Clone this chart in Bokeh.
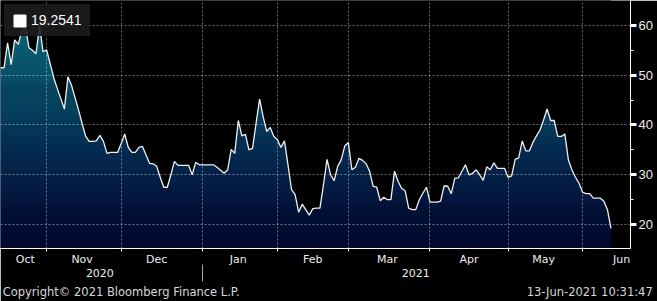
import numpy as np
import pandas as pd
from bokeh.plotting import figure
from bokeh.models import Range1d, LinearAxis, FixedTicker, Legend, LegendItem
from bokeh.embed import file_html
from bokeh.resources import INLINE

# ---- data (business days) ----
dates = pd.bdate_range("2020-10-14", "2021-06-11")
values = [
    51.5, 51.5, 56.5, 52.1, 57.1, 56.2, 59.0, 60.0, 55.5, 55.0,
    54.3, 60.0, 54.7, 55.1, 52.3, 49.5, 47.3, 45.3, 43.2, 49.7,
    48.0, 45.5, 43.0, 40.3, 37.7, 36.7, 36.7, 36.8, 37.9, 36.7,
    34.3, 34.5, 34.5, 34.5, 36.3, 38.2, 35.5, 34.5, 34.5, 35.5,
    35.7, 34.0, 32.3, 32.2, 31.7, 29.5, 27.5, 27.5, 30.0, 32.7,
    31.9, 31.9, 31.9, 31.9, 30.0, 32.5, 32.0, 32.0, 32.0, 32.0,
    32.0, 31.5, 30.9, 30.3, 31.0, 35.1, 34.3, 40.9, 37.8, 38.1,
    35.0, 35.3, 40.3, 45.2, 41.7, 38.7, 39.5, 37.7, 37.1, 35.5,
    36.8, 32.0, 27.0, 26.0, 22.5, 24.1, 23.0, 21.9, 23.2, 23.3,
    23.3, 28.0, 33.1, 30.0, 28.8, 31.7, 33.0, 35.8, 36.5, 31.0,
    31.5, 33.3, 32.9, 32.2, 30.7, 27.7, 27.5, 24.8, 25.5, 25.0,
    25.0, 30.7, 28.7, 27.3, 26.8, 23.3, 23.0, 23.0, 25.0, 26.3,
    27.5, 24.5, 24.5, 24.5, 24.7, 27.8, 27.7, 26.2, 29.3, 29.4,
    30.7, 32.0, 30.0, 30.3, 31.0, 30.0, 28.9, 31.6, 31.0, 32.4,
    31.3, 31.3, 31.3, 29.5, 29.8, 33.1, 33.4, 36.8, 34.8, 34.8,
    36.5, 37.8, 39.0, 41.0, 43.2, 40.9, 40.9, 37.7, 37.7, 38.2,
    33.0, 31.0, 29.5, 28.3, 26.5, 26.2, 26.2, 25.3, 25.3, 25.3,
    24.7, 23.0, 19.2541,
]
month_names = ["Oct", "Nov", "Dec", "Jan", "Feb", "Mar", "Apr", "May", "Jun"]
month_label_pos = [7, 23, 44, 67, 88, 109, 132, 153, 175]
year_names = ["2020", "2021"]
year_label_pos = [28, 117]
footer_texts = ["Copyright\u00a9 2021 Bloomberg Finance L.P.", "13-Jun-2021 10:31:47"]
footer_pos = [34, 166]
y_major = [20, 30, 40, 50, 60]
y_minor = [25, 35, 45, 55]

x = np.arange(len(values))
month_starts = [i for i in range(1, len(dates)) if dates[i].month != dates[i - 1].month]
year_starts = [i for i in range(1, len(dates)) if dates[i].year != dates[i - 1].year]

Y0, Y1 = 15.2, 65.0
X1 = 177.5

p = figure(width=657, height=301, output_backend="svg", toolbar_location=None,
           x_range=Range1d(0, X1), y_range=Range1d(Y0, Y1),
           y_axis_location="right",
           min_border_left=0, min_border_top=0, min_border_right=27, min_border_bottom=52)
p.background_fill_color = "black"
p.border_fill_color = "black"
p.outline_line_color = None

# ---- gradient fill under the curve ----
stops_v = [Y0, 25, 35, 45, 62]
stops_c = np.array([[3, 8, 46], [4, 22, 62], [5, 44, 80], [7, 70, 98], [12, 104, 120]], float)
edges = np.linspace(Y0, 62, 236)
mids = (edges[:-1] + edges[1:]) / 2
cols = []
for m in mids:
    r = np.interp(m, stops_v, stops_c[:, 0])
    g = np.interp(m, stops_v, stops_c[:, 1])
    b = np.interp(m, stops_v, stops_c[:, 2])
    cols.append("#%02x%02x%02x" % (int(r), int(g), int(b)))
p.quad(left=0, right=x[-1], bottom=edges[:-1], top=edges[1:] + 0.12,
       fill_color=cols, line_color=None, level="image")
# mask above the curve
p.varea(x=x, y1=values, y2=Y1 + 2, fill_color="black", level="image")

# line
p.line(x, values, line_color="#f0f0f0", line_width=1.3)

# ---- grids ----
p.xgrid.ticker = FixedTicker(ticks=month_starts)
p.ygrid.ticker = FixedTicker(ticks=y_major)
for g in (p.xgrid[0], p.ygrid[0]):
    g.grid_line_color = "white"
    g.grid_line_alpha = 0.42
    g.grid_line_dash = "2 2"
    g.grid_line_width = 1

FONT = "DejaVu Sans"
TXT = "#ececec"

# ---- right axis ----
ya = p.yaxis[0]
ya.ticker = FixedTicker(ticks=y_major, minor_ticks=y_minor)
ya.axis_line_color = "white"
ya.major_tick_line_color = "white"
ya.major_tick_line_width = 3
ya.major_tick_out = 6
ya.major_tick_in = 0
ya.minor_tick_line_color = "white"
ya.minor_tick_out = 3
ya.minor_tick_in = 0
ya.major_label_standoff = 2
ya.major_label_text_font = "Liberation Sans"
ya.major_label_text_font_size = "13px"
ya.major_label_text_color = TXT

# ---- bottom axis: months ----
xa = p.xaxis[0]
xa.ticker = FixedTicker(ticks=month_label_pos, minor_ticks=month_starts)
xa.major_label_overrides = dict(zip(month_label_pos, month_names))
xa.axis_line_color = "white"
xa.major_tick_line_color = None
xa.major_tick_out = 0
xa.major_tick_in = 0
xa.minor_tick_line_color = "white"
xa.minor_tick_out = 3
xa.minor_tick_in = 0
xa.major_label_standoff = 1
xa.major_label_text_font = FONT
xa.major_label_text_font_size = "11px"
xa.major_label_text_color = TXT

# ---- bottom axis: years ----
xa2 = LinearAxis(ticker=FixedTicker(ticks=year_label_pos),
                 major_label_overrides=dict(zip(year_label_pos, year_names)))
xa2.axis_line_color = None
xa2.major_tick_line_color = None
xa2.major_tick_out = 0
xa2.major_tick_in = 0
xa2.minor_tick_line_color = None
xa2.minor_tick_out = 0
xa2.minor_tick_in = 0
xa2.major_label_standoff = 0
xa2.major_label_text_font = FONT
xa2.major_label_text_font_size = "11px"
xa2.major_label_text_color = TXT
p.add_layout(xa2, "below")

# ---- year separator + footer row ----
xa3 = LinearAxis(ticker=FixedTicker(ticks=footer_pos, minor_ticks=year_starts),
                 major_label_overrides=dict(zip(footer_pos, footer_texts)))
xa3.axis_line_color = None
xa3.major_tick_line_color = None
xa3.major_tick_out = 0
xa3.major_tick_in = 0
xa3.minor_tick_line_color = "#a8a8a8"
xa3.minor_tick_in = 15
xa3.minor_tick_out = 2
xa3.major_label_standoff = 3
xa3.major_label_text_font = FONT
xa3.major_label_text_font_size = "11.5px"
xa3.major_label_text_color = "#d8d8d8"
p.add_layout(xa3, "below")

# ---- legend ----
leg_r = p.quad(left=[-50], right=[-49], top=[0], bottom=[-1],
               fill_color="white", fill_alpha=1.0, line_color="white", line_width=1)
legend = Legend(items=[LegendItem(label="%.4f" % values[-1], renderers=[leg_r])],
                location="top_left", margin=4, padding=7, spacing=0,
                glyph_width=15, glyph_height=15, label_height=15, label_standoff=4,
                background_fill_color="#1c1c1c", background_fill_alpha=0.9,
                border_line_color="#1c1c1c", border_line_alpha=0.9,
                label_text_font="Liberation Sans", label_text_font_size="14px",
                label_text_color="white")
p.add_layout(legend)

open("out.html", "w").write(file_html(p, INLINE))
